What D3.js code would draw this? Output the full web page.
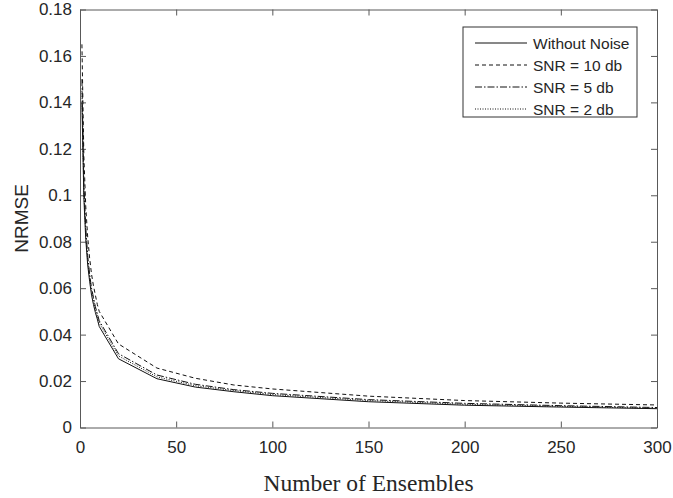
<!DOCTYPE html>
<html>
<head>
<meta charset="utf-8">
<script src="https://cdn.jsdelivr.net/npm/d3@7"></script>
<style>
  body { margin: 0; background: #fff; }
  svg text { font-family: "Liberation Sans", Arial, sans-serif; fill: #262626; }
  .xlabel { font-family: "Liberation Serif", "Times New Roman", serif !important; }
</style>
</head>
<body>
<div id="chart"></div>
<script>
// ensemble sizes on the x axis
const ensembles = [1, 2, 3, 4, 5, 6, 7, 8, 9, 10, 20, 40, 60, 80, 100, 150, 200, 250, 300];

const withoutNoise = [0.140, 0.099, 0.081, 0.070, 0.063, 0.057, 0.053, 0.0495, 0.0467, 0.0435, 0.0296, 0.0210, 0.0174, 0.0154, 0.0137, 0.0111, 0.0096, 0.0088, 0.0081];
const snr10 = [0.165, 0.117, 0.095, 0.082, 0.073, 0.066, 0.061, 0.057, 0.053, 0.050, 0.0360, 0.0256, 0.0212, 0.0183, 0.0166, 0.0135, 0.0116, 0.0105, 0.0097];
const snr5 = [0.150, 0.105, 0.086, 0.074, 0.066, 0.060, 0.056, 0.052, 0.049, 0.0460, 0.0318, 0.0226, 0.0186, 0.0163, 0.0147, 0.0120, 0.0104, 0.0094, 0.0086];
const snr2 = [0.145, 0.102, 0.083, 0.072, 0.065, 0.059, 0.055, 0.051, 0.048, 0.0450, 0.0308, 0.0218, 0.0180, 0.0159, 0.0142, 0.0116, 0.0100, 0.0091, 0.0083];

const seriesNames = ['Without Noise', 'SNR = 10 db', 'SNR = 5 db', 'SNR = 2 db'];
const seriesDash = [null, '4,3', '7,2,1.5,2', '1,1.5'];
const seriesValues = [withoutNoise, snr10, snr5, snr2];

const xTicks = [0, 50, 100, 150, 200, 250, 300];
const yTicks = [0, 0.02, 0.04, 0.06, 0.08, 0.1, 0.12, 0.14, 0.16, 0.18];

const margin = { top: 9.5, right: 16, bottom: 70.5, left: 80 };
const width = 673 - margin.left - margin.right,
  height = 498 - margin.top - margin.bottom;

const svg = d3.select('#chart').append('svg')
  .attr('width', 673)
  .attr('height', 498);

const g = svg.append('g')
  .attr('transform', 'translate(' + margin.left + ',' + margin.top + ')');

const x_scale = d3.scaleLinear().domain([0, 300]).range([0, width]);
const y_scale = d3.scaleLinear().domain([0, 0.18]).range([height, 0]);

const axisColor = '#595959';
const tickLen = 6;

// bottom + left axes with inward ticks
const xAxis = g.append('g')
  .attr('transform', 'translate(0,' + height + ')')
  .call(d3.axisBottom(x_scale).tickValues(xTicks).tickSizeInner(-tickLen).tickSizeOuter(0).tickPadding(13).tickFormat(d3.format('d')));
const yAxis = g.append('g')
  .call(d3.axisLeft(y_scale).tickValues(yTicks).tickSizeInner(-tickLen).tickSizeOuter(0).tickPadding(8).tickFormat((d) => d === 0 ? '0' : d3.format('~g')(d)));

// top + right axes (box)
const xTop = g.append('g')
  .call(d3.axisTop(x_scale).tickValues(xTicks).tickSizeInner(-tickLen).tickSizeOuter(0).tickFormat(''));
const yRight = g.append('g')
  .attr('transform', 'translate(' + width + ',0)')
  .call(d3.axisRight(y_scale).tickValues(yTicks).tickSizeInner(-tickLen).tickSizeOuter(0).tickFormat(''));

[xAxis, yAxis, xTop, yRight].forEach((a) => {
  a.selectAll('path, line').attr('stroke', axisColor);
  a.selectAll('text').style('font-size', '17px').attr('fill', '#303030');
});

// curves
const line = d3.line()
  .x((d) => x_scale(d[0]))
  .y((d) => y_scale(d[1]));

seriesValues.forEach((vals, i) => {
  g.append('path')
    .datum(ensembles.map((e, j) => [e, vals[j]]))
    .attr('fill', 'none')
    .attr('stroke', '#111')
    .attr('stroke-width', 1)
    .attr('stroke-dasharray', seriesDash[i])
    .attr('d', line);
});

// axis labels
svg.append('text')
  .attr('class', 'xlabel')
  .attr('x', margin.left + width / 2)
  .attr('y', 491)
  .attr('text-anchor', 'middle')
  .style('font-size', '23.5px')
  .text('Number of Ensembles');

svg.append('text')
  .attr('transform', 'translate(28,' + (margin.top + height / 2) + ') rotate(-90)')
  .attr('text-anchor', 'middle')
  .style('font-size', '19px')
  .text('NRMSE');

// legend
const legend = svg.append('g').attr('transform', 'translate(463,27)');
legend.append('rect')
  .attr('width', 174)
  .attr('height', 90)
  .attr('fill', '#fff')
  .attr('stroke', '#333')
  .attr('stroke-width', 1);

seriesNames.forEach((name, i) => {
  const yy = 16 + i * 22;
  legend.append('line')
    .attr('x1', 12).attr('x2', 64)
    .attr('y1', yy).attr('y2', yy)
    .attr('stroke', '#111')
    .attr('stroke-dasharray', seriesDash[i]);
  legend.append('text')
    .attr('x', 70)
    .attr('y', yy + 5.5)
    .style('font-size', '15.5px')
    .text(name);
});
</script>
</body>
</html>
